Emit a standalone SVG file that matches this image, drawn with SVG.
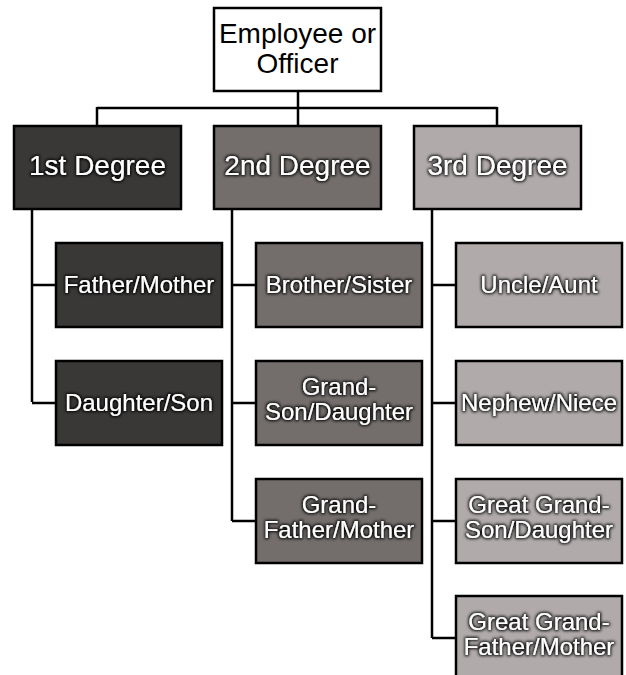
<svg xmlns="http://www.w3.org/2000/svg" width="626" height="675" viewBox="0 0 626 675">
<defs>
<filter id="glow" x="-20%" y="-40%" width="140%" height="180%">
<feMorphology in="SourceAlpha" operator="dilate" radius="1.2" result="d"/>
<feGaussianBlur in="d" stdDeviation="1.6" result="b"/>
<feFlood flood-color="#000" flood-opacity="0.95"/>
<feComposite in2="b" operator="in" result="s"/>
<feMerge><feMergeNode in="s"/><feMergeNode in="SourceGraphic"/></feMerge>
</filter>
</defs>
<style>
rect{stroke:#000;stroke-width:2.5}
.top{fill:#fff}
.d1{fill:#3a3837}
.d2{fill:#736e6c}
.d3{fill:#b0abaa}
text{font-family:"Liberation Sans",Arial,sans-serif;text-anchor:middle}
.tt{font-size:28px;fill:#000}
.dt{font-size:28px;fill:#fff;filter:url(#glow)}
.ct{font-size:24px;fill:#fff;filter:url(#glow)}
#connectors path{fill:none;stroke:#000;stroke-width:2.5}
</style>
<g id="connectors">
<path d="M298 91V108M97 108H497M97 107V126M298 108V126M497 107V126"/>
<path d="M32 209V402M32 285H56M32 403H56"/>
<path d="M232 209V521M232 285H256M232 403H256M232 521H256"/>
<path d="M432 209V638M432 285H456M432 403H456M432 521H456M432 638H456"/>
</g>
<g id="root"><rect class="top" x="214" y="8" width="167" height="83"/><text class="tt" x="297.5" y="43">Employee or</text><text class="tt" x="297.5" y="73">Officer</text></g>
<g id="deg1"><rect class="d1" x="14" y="126" width="167" height="83"/><text class="dt" x="97.5" y="175">1st Degree</text></g>
<g id="deg2"><rect class="d2" x="214" y="126" width="167" height="83"/><text class="dt" x="297.5" y="175">2nd Degree</text></g>
<g id="deg3"><rect class="d3" x="414" y="126" width="167" height="83"/><text class="dt" x="497.5" y="175">3rd Degree</text></g>
<g id="father-mother"><rect class="d1" x="56" y="243" width="166" height="84"/><text class="ct" x="139" y="293">Father/Mother</text></g>
<g id="daughter-son"><rect class="d1" x="56" y="361" width="166" height="84"/><text class="ct" x="139" y="411">Daughter/Son</text></g>
<g id="brother-sister"><rect class="d2" x="256" y="243" width="166" height="84"/><text class="ct" x="339" y="293">Brother/Sister</text></g>
<g id="grand-son"><rect class="d2" x="256" y="361" width="166" height="84"/><text class="ct" x="339" y="395">Grand-</text><text class="ct" x="339" y="420">Son/Daughter</text></g>
<g id="grand-father"><rect class="d2" x="256" y="479" width="166" height="84"/><text class="ct" x="339" y="513">Grand-</text><text class="ct" x="339" y="538">Father/Mother</text></g>
<g id="uncle-aunt"><rect class="d3" x="456" y="243" width="166" height="84"/><text class="ct" x="539" y="293">Uncle/Aunt</text></g>
<g id="nephew-niece"><rect class="d3" x="456" y="361" width="166" height="84"/><text class="ct" x="539" y="411">Nephew/Niece</text></g>
<g id="great-grand-son"><rect class="d3" x="456" y="479" width="166" height="84"/><text class="ct" x="539" y="513">Great Grand-</text><text class="ct" x="539" y="538">Son/Daughter</text></g>
<g id="great-grand-father"><rect class="d3" x="456" y="596" width="166" height="84"/><text class="ct" x="539" y="630">Great Grand-</text><text class="ct" x="539" y="655">Father/Mother</text></g>
</svg>
